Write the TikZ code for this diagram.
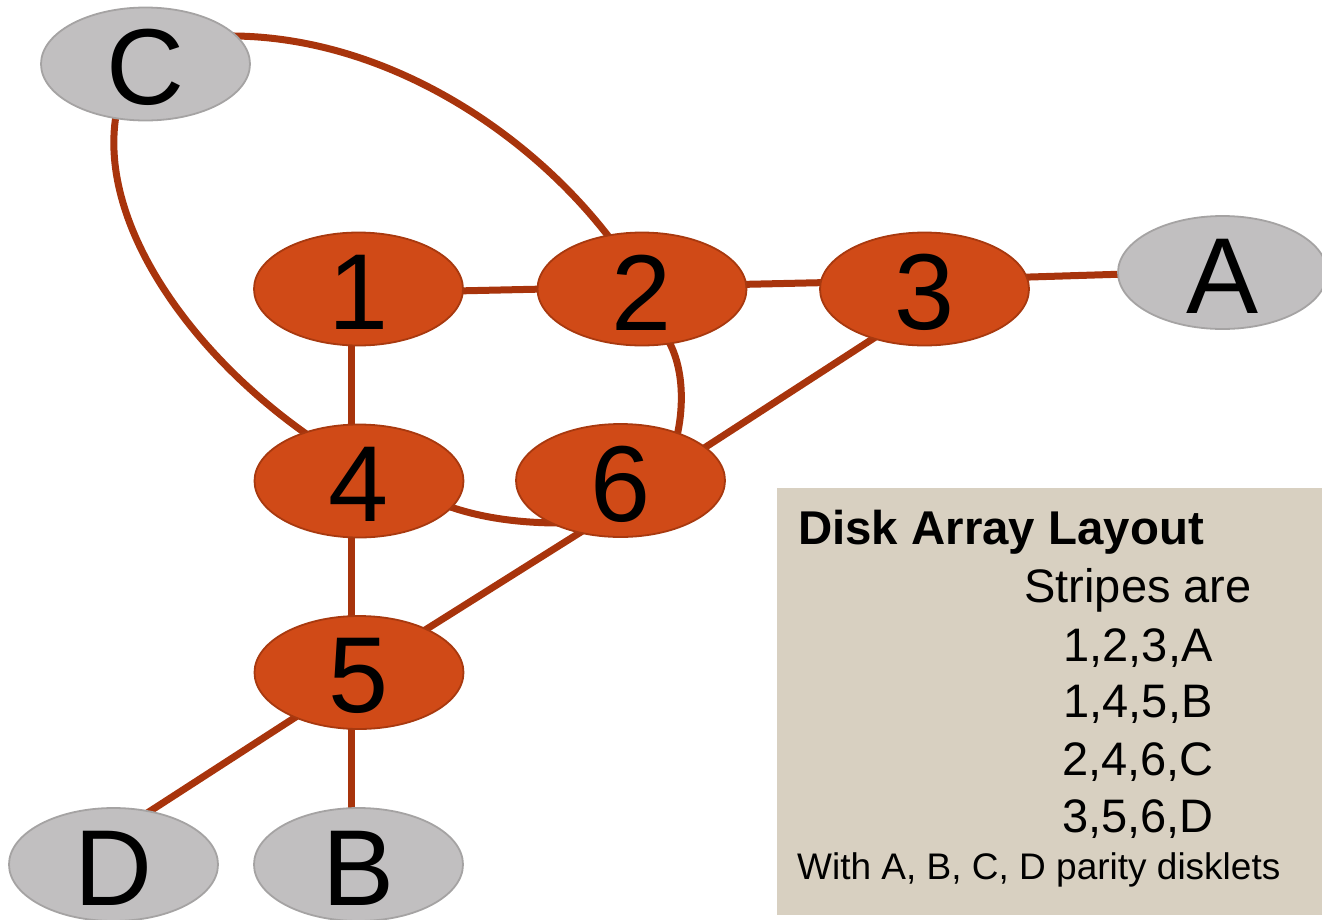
\documentclass[tikz,border=0pt]{standalone}
\usepackage{fontspec}
\setmainfont{Liberation Sans}
\usetikzlibrary{shapes.geometric,backgrounds,calc}

\definecolor{diskfill}{HTML}{D04A17}
\definecolor{diskrim}{HTML}{A8390F}
\definecolor{parfill}{HTML}{C1BFC0}
\definecolor{parrim}{HTML}{A5A3A3}
\definecolor{linkc}{HTML}{A8340C}
\definecolor{legendbg}{HTML}{D8D0C1}

\begin{document}
\begin{tikzpicture}[x=1pt,y=-1pt,
  lbl/.style={font=\fontsize{108}{108}\selectfont, inner sep=0pt, text=black},
  datadisk/.style={ellipse, draw=diskrim, line width=1.8pt, fill=diskfill,
    minimum width=209pt, minimum height=113pt, inner sep=0pt,
    label={[lbl,yshift=-3.5pt]center:#1}},
  paritydisk/.style={ellipse, draw=parrim, line width=1.8pt, fill=parfill,
    minimum width=209pt, minimum height=113pt, inner sep=0pt,
    label={[lbl,yshift=-3.5pt]center:#1}},
  link/.style={draw=linkc, line width=7pt},
  legendbox/.style={fill=legendbg, inner sep=0pt, anchor=north west},
  legendtxt/.style={inner sep=0pt, text=black, font=\fontsize{47}{50}\selectfont}]

\useasboundingbox (0,0) rectangle (1322,919);

% disks
\node[paritydisk=C] (pC) at (145.5,64) {};
\node[datadisk=1] (d1) at (358.5,289) {};
\node[datadisk=2] (d2) at (642,289) {};
\node[datadisk=3] (d3) at (924.5,289) {};
\node[paritydisk=A] (pA) at (1222.5,272.5) {};
\node[datadisk=4] (d4) at (359,481) {};
\node[datadisk=6] (d6) at (620.5,480.5) {};
\node[datadisk=5] (d5) at (359,672.5) {};
\node[paritydisk=D] (pD) at (113.5,864.5) {};
\node[paritydisk=B] (pB) at (358.5,864.5) {};

% stripe links, kept behind the disks
\begin{scope}[on background layer]
  \draw[link] ($(d1)+(96,2)$) -- ($(d2)+(-96,0)$);
  \draw[link] ($(d2)+(96,-4.5)$) -- ($(d3)+(-96,-6.5)$);
  \draw[link] ($(d3)+(96,-11.7)$) -- ($(pA)+(-96,1.5)$);
  \draw[link] ($(d1)+(-7.5,0)$) -- ($(d4)+(-8,0)$);
  \draw[link] ($(d4)+(-8,0)$) -- ($(d5)+(-8,0)$);
  \draw[link] ($(d5)+(-8,0)$) -- ($(pB)+(-7.5,0)$);
  \draw[link] ($(d3)+(-40.6,42.6)$) -- ($(d6)+(76.1,-27.6)$);
  \draw[link] ($(d6)+(-32,46.7)$) -- ($(d5)+(58.5,-37.7)$);
  \draw[link] ($(d5)+(-52.6,37.6)$) -- ($(pD)+(26.1,-46.6)$);
  \draw[link] ($(pC)+(80,-28)$) .. controls ($(pC)+(235,-30)$) and ($(d2)+(-112,-159)$) .. ($(d2)+(-27,-44)$);
  \draw[link] ($(pC)+(-28.5,46)$) .. controls ($(pC)+(-50.5,156)$) and ($(d4)+(-169,-126)$) .. ($(d4)+(-44,-41)$);
  \draw[link] ($(d2)+(26,51)$) .. controls ($(d2)+(43,81)$) and ($(d6)+(62.5,-70.5)$) .. ($(d6)+(56.5,-44.5)$);
  \draw[link] ($(d4)+(86,24)$) .. controls ($(d4)+(121,37)$) and ($(d6)+(-100.5,42.5)$) .. ($(d6)+(-60.5,42.5)$);
\end{scope}

% legend
\node[legendbox, minimum width=545pt, minimum height=427pt] (legend) at (777,488) {};
\node[legendtxt, anchor=base west, font=\fontsize{47.4}{50}\selectfont\bfseries] (title) at (798,544) {Disk Array Layout};
\node[legendtxt, anchor=base] (s0) at (1138,602) {Stripes are};
\node[legendtxt, anchor=base] (s1) at (1138,661) {1,2,3,A};
\node[legendtxt, anchor=base] (s2) at (1138,717) {1,4,5,B};
\node[legendtxt, anchor=base] (s3) at (1138,775) {2,4,6,C};
\node[legendtxt, anchor=base] (s4) at (1138,832) {3,5,6,D};
\node[legendtxt, anchor=base west, font=\fontsize{37}{40}\selectfont] (note) at (797,879) {With A, B, C, D parity disklets};
\end{tikzpicture}
\end{document}
